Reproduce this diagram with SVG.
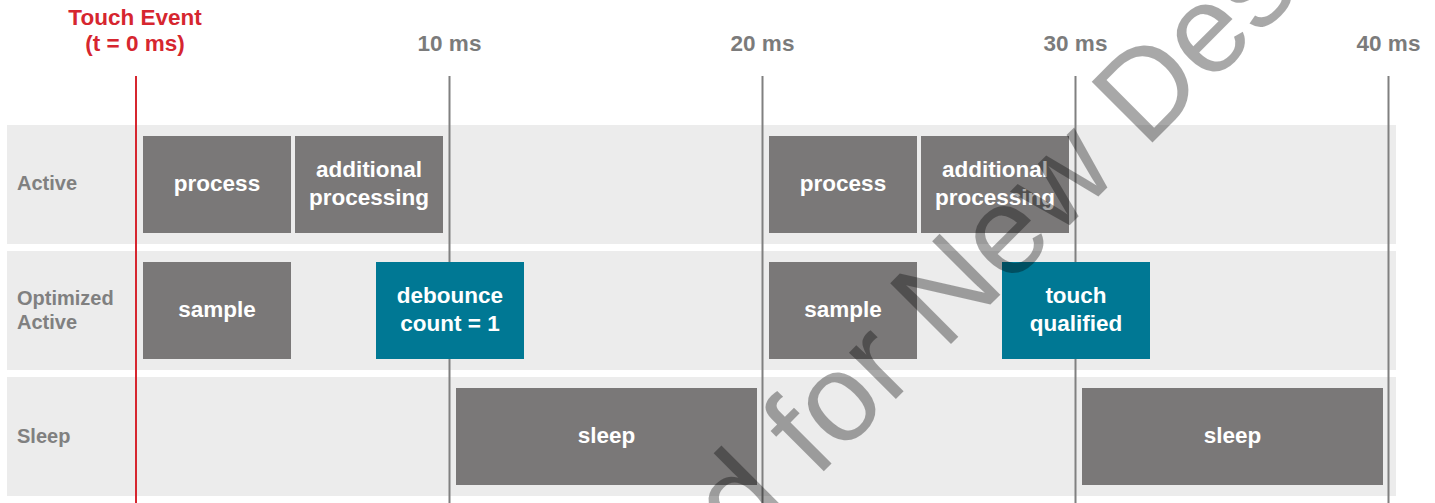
<svg xmlns="http://www.w3.org/2000/svg" width="1435" height="503" viewBox="0 0 1435 503">
<style>
.band{fill:#ececec}
.box{fill:#7a7878}
.teal{fill:#007894}
.bt{font-family:"Liberation Sans",Arial,sans-serif;font-weight:bold;font-size:22.5px;fill:#ffffff;text-anchor:middle}
.rl{font-family:"Liberation Sans",Arial,sans-serif;font-weight:bold;font-size:20px;fill:#808080}
.tk{font-family:"Liberation Sans",Arial,sans-serif;font-weight:bold;font-size:22.5px;fill:#7b7b7b;text-anchor:middle}
.ev{font-family:"Liberation Sans",Arial,sans-serif;font-weight:bold;font-size:22.5px;fill:#d6262f;text-anchor:middle}
.grid{stroke:#808080;stroke-width:2}
.wm{font-family:"Liberation Sans",Arial,sans-serif;font-size:125px;fill:#000000;fill-opacity:0.34}
</style>
<rect width="1435" height="503" fill="#ffffff"/>
<g id="rows">
<rect class="band" x="7" y="125" width="1389" height="119"/>
<rect class="band" x="7" y="251" width="1389" height="119"/>
<rect class="band" x="7" y="377" width="1389" height="119"/>
<text class="rl" x="17" y="190">Active</text>
<text class="rl" x="17" y="305">Optimized</text>
<text class="rl" x="17" y="329">Active</text>
<text class="rl" x="17" y="443">Sleep</text>
</g>
<g id="axis">
<text class="ev" x="135" y="25">Touch Event</text>
<text class="ev" x="135" y="51">(t = 0 ms)</text>
<text class="tk" x="449.5" y="51">10 ms</text>
<text class="tk" x="762.5" y="51">20 ms</text>
<text class="tk" x="1075.5" y="51">30 ms</text>
<text class="tk" x="1388.5" y="51">40 ms</text>
</g>
<g id="connectors">
<line x1="136" y1="76" x2="136" y2="503" stroke="#d6262f" stroke-width="2"/>
<line class="grid" x1="449.5" y1="76" x2="449.5" y2="503"/>
<line class="grid" x1="762.5" y1="76" x2="762.5" y2="503"/>
<line class="grid" x1="1075.5" y1="76" x2="1075.5" y2="503"/>
<line class="grid" x1="1388.5" y1="76" x2="1388.5" y2="503"/>
</g>
<g id="active-process-1"><rect class="box" x="143" y="136" width="148" height="97"/><text class="bt" x="217" y="191">process</text></g>
<g id="active-additional-1"><rect class="box" x="295" y="136" width="148" height="97"/><text class="bt" x="369" y="177">additional</text><text class="bt" x="369" y="205">processing</text></g>
<g id="active-process-2"><rect class="box" x="769" y="136" width="148" height="97"/><text class="bt" x="843" y="191">process</text></g>
<g id="active-additional-2"><rect class="box" x="921" y="136" width="148" height="97"/><text class="bt" x="995" y="177">additional</text><text class="bt" x="995" y="205">processing</text></g>
<g id="opt-sample-1"><rect class="box" x="143" y="262" width="148" height="97"/><text class="bt" x="217" y="317">sample</text></g>
<g id="opt-debounce"><rect class="teal" x="376" y="262" width="148" height="97"/><text class="bt" x="450" y="303">debounce</text><text class="bt" x="450" y="331">count = 1</text></g>
<g id="opt-sample-2"><rect class="box" x="769" y="262" width="148" height="97"/><text class="bt" x="843" y="317">sample</text></g>
<g id="opt-touch-qualified"><rect class="teal" x="1002" y="262" width="148" height="97"/><text class="bt" x="1076" y="303">touch</text><text class="bt" x="1076" y="331">qualified</text></g>
<g id="sleep-1"><rect class="box" x="456" y="388" width="301" height="97"/><text class="bt" x="606.5" y="443">sleep</text></g>
<g id="sleep-2"><rect class="box" x="1082" y="388" width="301" height="97"/><text class="bt" x="1232.5" y="443">sleep</text></g>
<g id="watermark">
<text class="wm" transform="translate(30,1265) rotate(-45)" x="0" y="0">Not Recommended for New Designs</text>
</g>
</svg>
